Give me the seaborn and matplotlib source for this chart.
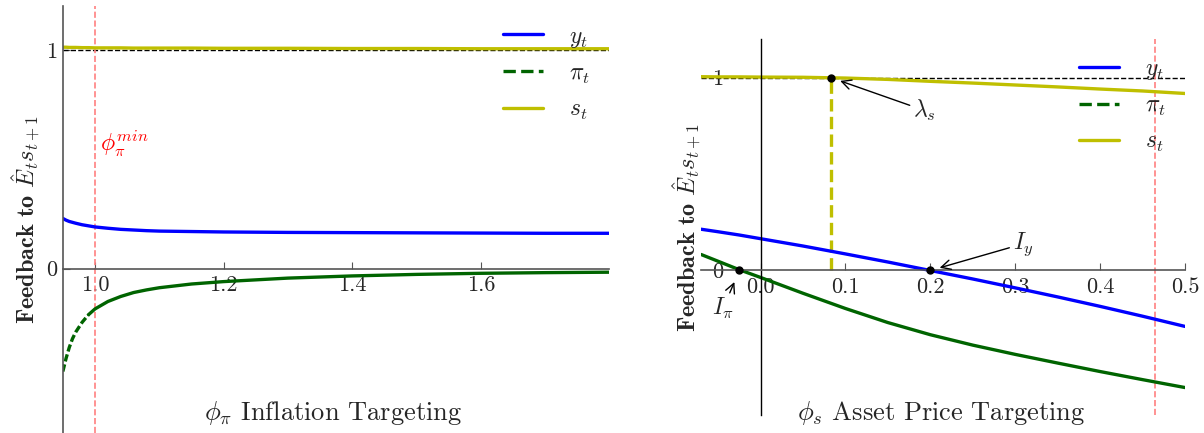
import matplotlib
matplotlib.use("Agg")
import matplotlib.pyplot as plt
from matplotlib.lines import Line2D
import numpy as np
import pandas as pd
import seaborn as sns

# ---------------- data: left panel (inflation targeting) ----------------
phi_pi = [0.95, 0.955, 0.96, 0.965, 0.97, 0.98, 0.99, 1.0, 1.02, 1.04, 1.06,
          1.08, 1.1, 1.15, 1.2, 1.3, 1.4, 1.5, 1.6, 1.7, 1.8]
y_left = [0.230, 0.222, 0.216, 0.212, 0.208, 0.201, 0.196, 0.191, 0.185, 0.180,
          0.177, 0.174, 0.172, 0.170, 0.168, 0.166, 0.165, 0.164, 0.163, 0.162, 0.162]
pi_left = [-0.470, -0.410, -0.360, -0.320, -0.290, -0.245, -0.210, -0.184, -0.150,
           -0.127, -0.109, -0.097, -0.087, -0.070, -0.059, -0.043, -0.033, -0.026,
           -0.021, -0.018, -0.016]
s_left = [1.013, 1.013, 1.012, 1.012, 1.012, 1.011, 1.011, 1.010, 1.010, 1.010,
          1.009, 1.009, 1.009, 1.009, 1.008, 1.008, 1.007, 1.007, 1.006, 1.006, 1.006]
phi_pi_min = 1.0
pi_dash_end = 0.99

# ---------------- data: right panel (asset price targeting) ----------------
phi_s = [-0.07, -0.05, -0.025, 0.0, 0.05, 0.1, 0.15, 0.2, 0.25, 0.3, 0.35, 0.4, 0.45, 0.5]
y_right = [0.214, 0.201, 0.184, 0.165, 0.127, 0.086, 0.044, 0.0, -0.044, -0.090,
           -0.137, -0.186, -0.237, -0.290]
pi_right = [0.083, 0.048, 0.004, -0.036, -0.118, -0.197, -0.270, -0.333, -0.387,
            -0.435, -0.480, -0.524, -0.566, -0.607]
s_right = [1.005, 1.004, 1.004, 1.003, 1.002, 0.998, 0.991, 0.981, 0.972, 0.962,
           0.952, 0.941, 0.931, 0.918]
lambda_s = (0.083, 1.0)
I_y = (0.2, 0.0)
I_pi = (-0.025, 0.0)
phi_s_max = 0.465

left_xticks = [1.0, 1.2, 1.4, 1.6]
left_xticklabels = ["1.0", "1.2", "1.4", "1.6"]
right_xticks = [0.0, 0.1, 0.2, 0.3, 0.4, 0.5]
right_xticklabels = ["0.0", "0.1", "0.2", "0.3", "0.4", "0.5"]
yticks = [0, 1]
yticklabels = ["0", "1"]
legend_labels = [r"$y_t$", r"$\pi_t$", r"$s_t$"]
ylabel = r"$\mathbf{Feedback\ to}\ \hat{E}_t s_{t+1}$"
xlabel_left = r"$\phi_\pi$ Inflation Targeting"
xlabel_right = r"$\phi_s$ Asset Price Targeting"

# ---------------- style ----------------
sns.set_style("white")
plt.rcParams["font.family"] = ["cmr10", "DejaVu Sans"]
plt.rcParams["mathtext.fontset"] = "cm"
plt.rcParams["axes.formatter.use_mathtext"] = True
plt.rcParams["axes.unicode_minus"] = False

BLUE = "#0000ff"
GREEN = "#006400"
YEL = "#bfbf00"
RED = "#ff8080"
GREY = "#555555"
LW = 2.4
TICK_FS = 16
LEG_FS = 17
LAB_FS = 19
YLAB_FS = 17.5

fig = plt.figure(figsize=(12.04, 4.33), dpi=100)
axL = fig.add_axes([0.0522, 0.0007, 0.4540, 0.9847])
axR = fig.add_axes([0.5823, 0.0413, 0.4019, 0.8684])

handles = [Line2D([], [], color=BLUE, lw=LW),
           Line2D([], [], color=GREEN, lw=LW, ls="--"),
           Line2D([], [], color=YEL, lw=LW)]
leg_kw = dict(loc="upper left", frameon=False, fontsize=LEG_FS, handlelength=1.7,
              handletextpad=1.1, labelspacing=0.55, borderpad=0, borderaxespad=0)

# ---------------- left panel ----------------
dfL = pd.DataFrame({"phi": phi_pi, "y": y_left, "pi": pi_left, "s": s_left})
dash_part = dfL[dfL["phi"] <= pi_dash_end]
solid_part = dfL[dfL["phi"] >= pi_dash_end]

axL.axhline(1, color="k", lw=1.0, ls="--", zorder=1)
axL.axvline(phi_pi_min, color=RED, lw=1.2, ls="--", zorder=1)
sns.lineplot(data=dfL, x="phi", y="y", ax=axL, color=BLUE, lw=LW, legend=False)
sns.lineplot(data=dash_part, x="phi", y="pi", ax=axL, color=GREEN, lw=LW,
             linestyle=(0, (2.2, 0.9)), legend=False)
sns.lineplot(data=solid_part, x="phi", y="pi", ax=axL, color=GREEN, lw=LW, legend=False)
sns.lineplot(data=dfL, x="phi", y="s", ax=axL, color=YEL, lw=LW, legend=False)
axL.text(1.008, 0.5, r"$\phi_\pi^{min}$", color="red", fontsize=17, ha="left", va="bottom")

axL.set_xlim(0.95, 1.8)
axL.set_ylim(-0.75, 1.2)
for sp in ["top", "right"]:
    axL.spines[sp].set_visible(False)
axL.spines["bottom"].set_position(("data", 0))
axL.spines["bottom"].set_color(GREY)
axL.spines["left"].set_color(GREY)
axL.spines["bottom"].set_linewidth(1.2)
axL.spines["left"].set_linewidth(1.2)
axL.set_xticks(left_xticks, left_xticklabels)
axL.set_yticks(yticks, yticklabels)
axL.tick_params(axis="x", direction="in", length=5, color=GREY, labelsize=TICK_FS,
                bottom=True, pad=5)
axL.tick_params(axis="y", direction="in", length=5, color=GREY, labelsize=TICK_FS,
                left=True, pad=4)
axL.set_ylabel(ylabel, fontsize=YLAB_FS)
axL.yaxis.set_label_coords(-0.036, 0.5)
axL.set_xlabel(xlabel_left, fontsize=LAB_FS, va="center")
axL.xaxis.set_label_coords(0.4946, 0.046)
axL.legend(handles, legend_labels, bbox_to_anchor=(0.8047, 0.955), **leg_kw)

# ---------------- right panel ----------------
dfR = pd.DataFrame({"phi": phi_s, "y": y_right, "pi": pi_right, "s": s_right})
axR.axhline(1, color="k", lw=1.0, ls="--", zorder=1)
axR.axvline(phi_s_max, color=RED, lw=1.2, ls="--", zorder=1)
axR.plot([lambda_s[0], lambda_s[0]], [0, lambda_s[1]], color=YEL, lw=LW, ls="--", zorder=1)
sns.lineplot(data=dfR, x="phi", y="y", ax=axR, color=BLUE, lw=LW, legend=False)
sns.lineplot(data=dfR, x="phi", y="pi", ax=axR, color=GREEN, lw=LW, legend=False)
sns.lineplot(data=dfR, x="phi", y="s", ax=axR, color=YEL, lw=LW, legend=False)
for pt in (lambda_s, I_y, I_pi):
    axR.plot([pt[0]], [pt[1]], "o", color="k", ms=5, zorder=5)

arrow = dict(arrowstyle="->", color="k", lw=1.0, shrinkA=0)
axR.annotate(r"$\lambda_s$", xy=lambda_s, xytext=(0.193, 0.83), fontsize=17,
             ha="center", va="center", arrowprops=dict(arrow, shrinkB=7))
axR.annotate(r"$I_y$", xy=I_y, xytext=(0.309, 0.138), fontsize=17,
             ha="center", va="center", arrowprops=dict(arrow, shrinkB=7))
axR.annotate(r"$I_\pi$", xy=I_pi, xytext=(-0.044, -0.196), fontsize=17,
             ha="center", va="center", arrowprops=dict(arrow, shrinkB=9))

axR.set_xlim(-0.07, 0.5)
axR.set_ylim(-0.75, 1.2)
for sp in ["top", "right"]:
    axR.spines[sp].set_visible(False)
axR.spines["bottom"].set_position(("data", 0))
axR.spines["left"].set_position(("data", 0))
axR.spines["bottom"].set_color(GREY)
axR.spines["bottom"].set_linewidth(1.2)
axR.spines["left"].set_color("k")
axR.spines["left"].set_linewidth(1.0)
axR.set_xticks(right_xticks, right_xticklabels)
axR.set_yticks(yticks, yticklabels)
axR.tick_params(axis="x", direction="in", length=5, color=GREY, labelsize=TICK_FS,
                bottom=True, pad=5)
axR.tick_params(axis="y", direction="in", length=0, labelsize=TICK_FS, left=True, pad=27)
axR.set_ylabel(ylabel, fontsize=YLAB_FS)
axR.yaxis.set_label_coords(0.006, 0.5)
axR.set_xlabel(xlabel_right, fontsize=LAB_FS, va="center")
axR.xaxis.set_label_coords(0.4958, 0.0056)
axR.legend(handles, legend_labels, bbox_to_anchor=(0.781, 0.95), **leg_kw)

fig.savefig("out.png", dpi=100)
